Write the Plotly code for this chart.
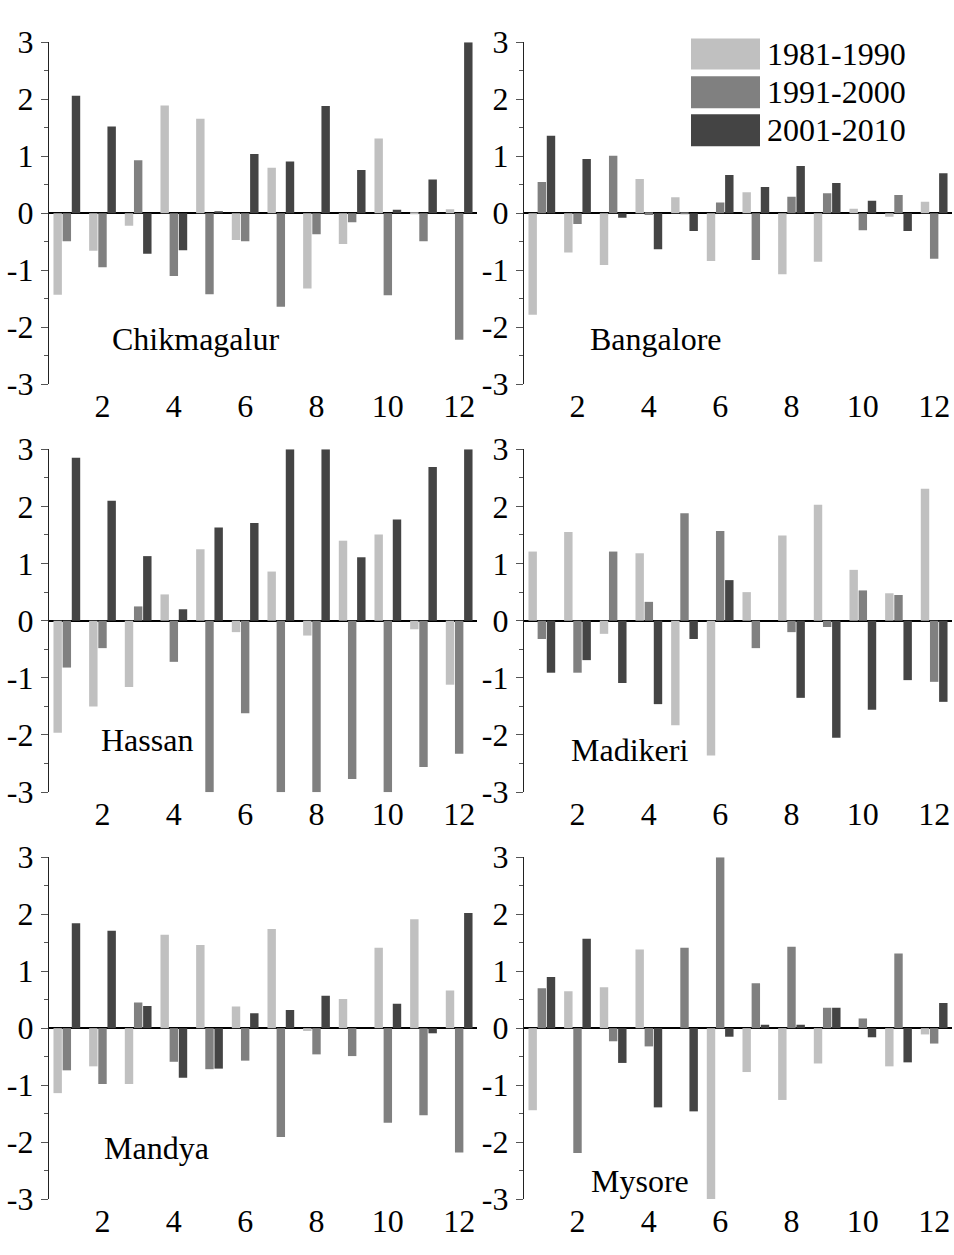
import plotly.graph_objects as go

months = list(range(1, 13))
series_names = ["1981-1990", "1991-2000", "2001-2010"]
series_colors = ["#c0c0c0", "#808080", "#444444"]
tick_vals_x = [2, 4, 6, 8, 10, 12]
tick_vals_y = [-3, -2, -1, 0, 1, 2, 3]
tick_text_y = ["-3", "-2", "-1", "0", "1", "2", "3"]

# Chikmagalur
chik_81 = [-1.43, -0.66, -0.22, 1.89, 1.66, -0.47, 0.80, -1.32, -0.54, 1.31, -0.01, 0.07]
chik_91 = [-0.49, -0.95, 0.93, -1.10, -1.42, -0.49, -1.64, -0.37, -0.16, -1.44, -0.49, -2.22]
chik_01 = [2.06, 1.52, -0.71, -0.65, 0.02, 1.04, 0.91, 1.88, 0.76, 0.06, 0.59, 3.0]
# Bangalore
bang_81 = [-1.78, -0.69, -0.91, 0.60, 0.28, -0.84, 0.37, -1.07, -0.85, 0.08, -0.06, 0.20]
bang_91 = [0.55, -0.19, 1.01, -0.03, -0.02, 0.19, -0.82, 0.29, 0.35, -0.30, 0.32, -0.80]
bang_01 = [1.36, 0.95, -0.08, -0.63, -0.31, 0.67, 0.46, 0.83, 0.53, 0.22, -0.31, 0.70]
# Hassan
hass_81 = [-1.96, -1.50, -1.16, 0.46, 1.25, -0.20, 0.86, -0.26, 1.40, 1.51, -0.15, -1.12]
hass_91 = [-0.82, -0.48, 0.25, -0.72, -3.0, -1.62, -3.0, -3.0, -2.77, -3.0, -2.56, -2.33]
hass_01 = [2.85, 2.10, 1.13, 0.20, 1.63, 1.71, 3.0, 3.0, 1.11, 1.77, 2.69, 3.0]
# Madikeri
madi_81 = [1.21, 1.55, -0.23, 1.18, -1.83, -2.36, 0.50, 1.49, 2.03, 0.89, 0.48, 2.31]
madi_91 = [-0.32, -0.91, 1.21, 0.33, 1.88, 1.57, -0.48, -0.20, -0.11, 0.53, 0.45, -1.07]
madi_01 = [-0.91, -0.69, -1.09, -1.46, -0.32, 0.71, 0.0, -1.35, -2.05, -1.56, -1.04, -1.42]
# Mandya
mand_81 = [-1.14, -0.67, -0.98, 1.64, 1.46, 0.38, 1.74, -0.05, 0.51, 1.41, 1.91, 0.66]
mand_91 = [-0.74, -0.98, 0.45, -0.59, -0.72, -0.57, -1.91, -0.46, -0.49, -1.66, -1.53, -2.18]
mand_01 = [1.84, 1.71, 0.39, -0.87, -0.71, 0.26, 0.32, 0.57, 0.0, 0.43, -0.09, 2.02]
# Mysore
myso_81 = [-1.44, 0.65, 0.72, 1.38, 0.0, -3.0, -0.77, -1.26, -0.62, 0.0, -0.67, -0.11]
myso_91 = [0.70, -2.19, -0.23, -0.32, 1.41, 3.0, 0.79, 1.43, 0.36, 0.17, 1.31, -0.27]
myso_01 = [0.90, 1.57, -0.61, -1.39, -1.46, -0.15, 0.06, 0.06, 0.36, -0.16, -0.60, 0.44]

panels = [
    ("Chikmagalur", [chik_81, chik_91, chik_01]),
    ("Bangalore", [bang_81, bang_91, bang_01]),
    ("Hassan", [hass_81, hass_91, hass_01]),
    ("Madikeri", [madi_81, madi_91, madi_01]),
    ("Mandya", [mand_81, mand_91, mand_01]),
    ("Mysore", [myso_81, myso_91, myso_01]),
]

W, H = 954, 1255
FONT = "Liberation Serif"
FS = 32

# pixel layout of plot areas (left, right, top, bottom)
col_x = [(49, 477), (524, 952)]
row_y = [(25, 377), (444, 797), (864, 1216)]
label_pos = [(195, 330), (656, 330), (147, 743), (629, 754), (156, 1163), (640, 1197)]

fig = go.Figure()
layout_axes = {}
annotations = []
shapes = []

for i, (name, data) in enumerate(panels):
    r, c = divmod(i, 2)
    x0, x1 = col_x[c]
    y0, y1 = row_y[r]
    idx = "" if i == 0 else str(i + 1)
    xa = "x" + idx
    ya = "y" + idx
    for s in range(3):
        fig.add_trace(go.Bar(
            x=months, y=data[s], name=series_names[s],
            marker=dict(color=series_colors[s], line=dict(width=0)),
            xaxis=xa, yaxis=ya, showlegend=False,
            offsetgroup=str(s),
        ))
    layout_axes["xaxis" + idx] = dict(
        domain=[x0 / W, x1 / W], range=[0.5, 12.5], anchor=ya,
        tickvals=tick_vals_x, ticks="", showline=False, showgrid=False,
        zeroline=False, tickfont=dict(family=FONT, size=FS, color="black"),
        fixedrange=True,
    )
    layout_axes["yaxis" + idx] = dict(
        domain=[1 - y1 / H, 1 - y0 / H], range=[-3, 3], anchor=xa,
        tickvals=tick_vals_y, ticktext=tick_text_y,
        ticks="outside", ticklen=7,
        tickcolor="#555555", tickwidth=1.3,
        minor=dict(dtick=0.5, tick0=0, ticks="outside", ticklen=4,
                   tickcolor="#555555", tickwidth=1.3, showgrid=False),
        showline=True, linecolor="#222222", linewidth=1.3,
        showgrid=False, zeroline=True, zerolinecolor="black", zerolinewidth=1.6,
        tickfont=dict(family=FONT, size=FS, color="black"),
        ticklabelstandoff=1,
        fixedrange=True,
    )
    lx, ly = label_pos[i]
    annotations.append(dict(
        text=name, x=lx / W, y=1 - ly / H, xref="paper", yref="paper",
        showarrow=False, xanchor="center", yanchor="middle",
        font=dict(family=FONT, size=FS, color="black"),
    ))

# legend drawn in paper space
leg_boxes = [(21, 53), (60, 93), (99, 132)]
for s, (t, b) in enumerate(leg_boxes):
    shapes.append(dict(
        type="rect", xref="paper", yref="paper",
        x0=691 / W, x1=760 / W, y0=1 - b / H, y1=1 - t / H,
        fillcolor=series_colors[s], line=dict(width=0),
    ))
    annotations.append(dict(
        text=series_names[s], x=765 / W, y=1 - ((t + b) / 2) / H,
        xref="paper", yref="paper", showarrow=False,
        xanchor="left", yanchor="middle",
        font=dict(family=FONT, size=FS, color="black"),
    ))

fig.update_layout(
    width=W, height=H,
    margin=dict(l=0, r=0, t=0, b=0),
    paper_bgcolor="white", plot_bgcolor="white",
    barmode="group", bargap=0.23, bargroupgap=0.08,
    showlegend=False,
    annotations=annotations, shapes=shapes,
    font=dict(family=FONT, size=FS, color="black"),
    **layout_axes,
)

fig.write_html("out.html")
